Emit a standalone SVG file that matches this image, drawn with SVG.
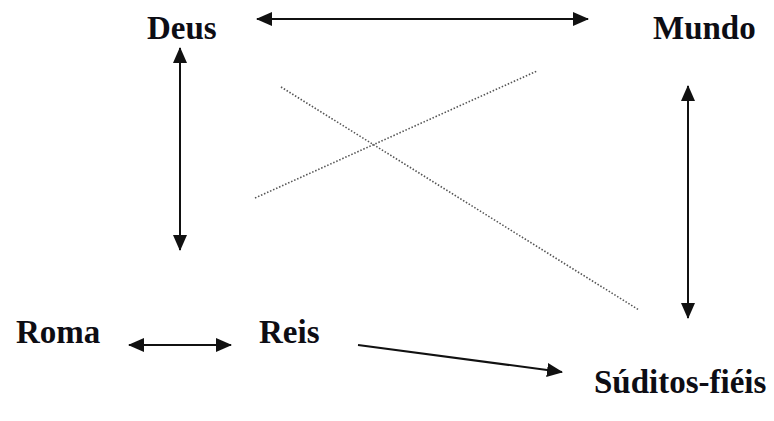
<svg xmlns="http://www.w3.org/2000/svg" width="774" height="421" viewBox="0 0 774 421">
<style>
.lbl{font-family:"Liberation Serif","Times New Roman",serif;font-weight:bold;font-size:33px;fill:#0d0d14}
.arr{stroke:#111;stroke-width:2;fill:none;marker-start:url(#h);marker-end:url(#h)}
.one{stroke:#111;stroke-width:2;fill:none;marker-end:url(#h)}
.dot{stroke:#555;stroke-width:1.6;stroke-dasharray:1.5 1.8;fill:none}
</style>
<defs>
<marker id="h" viewBox="0 0 16 14" refX="15" refY="7" markerWidth="16" markerHeight="14" markerUnits="userSpaceOnUse" orient="auto-start-reverse">
<path d="M0,0 L16,7 L0,14 z" fill="#111"/>
</marker>
</defs>
<g id="deus"><text class="lbl" x="147" y="39">Deus</text></g>
<g id="mundo"><text class="lbl" x="653" y="39">Mundo</text></g>
<g id="roma"><text class="lbl" x="16" y="343">Roma</text></g>
<g id="reis"><text class="lbl" x="259" y="343">Reis</text></g>
<g id="suditos"><text class="lbl" x="594" y="393">Súditos-fiéis</text></g>
<g id="connectors">
<line class="arr" x1="257" y1="19" x2="588" y2="19"/>
<line class="arr" x1="180" y1="48" x2="180" y2="250"/>
<line class="arr" x1="688" y1="86" x2="688" y2="318"/>
<line class="arr" x1="129" y1="345" x2="231" y2="345"/>
<line class="one" x1="358" y1="345" x2="562" y2="372"/>
<line class="dot" x1="281" y1="87" x2="639" y2="310"/>
<line class="dot" x1="255" y1="198" x2="537" y2="71"/>
</g>
</svg>
